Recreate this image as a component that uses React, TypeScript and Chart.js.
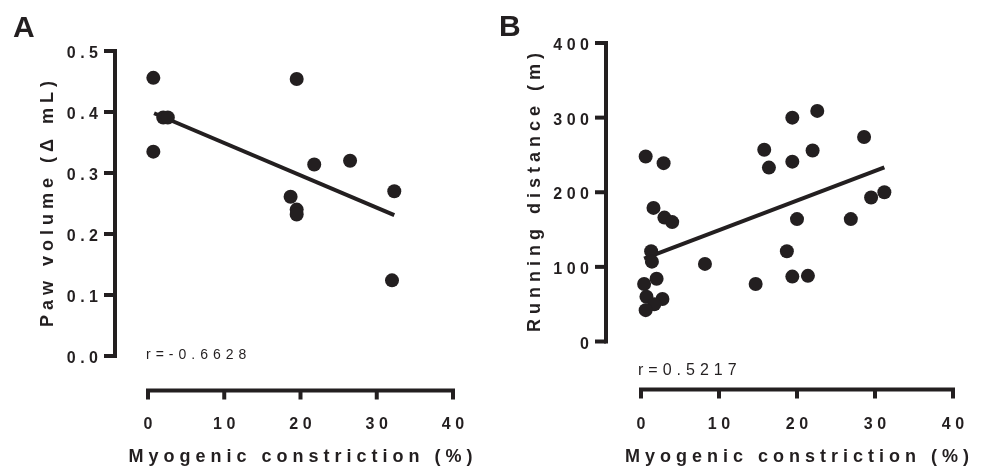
import React, { useEffect, useRef } from "react";
import { Chart, registerables } from "chart.js";

Chart.register(...registerables);

const INK = "#231f20";
const FONT = "'Liberation Sans', Arial, Helvetica, sans-serif";

// ---------- Panel A data ----------
const aX = [0.7, 0.7, 2.0, 2.6, 19.5, 21.8, 26.5, 18.7, 19.5, 19.5, 32.3, 32.0];
const aY = [0.456, 0.335, 0.391, 0.391, 0.454, 0.314, 0.32, 0.261, 0.24, 0.232, 0.27, 0.124];
const aFitX = [0.8, 32.3];
const aFitY = [0.398, 0.231];
const aXTicks = [0, 10, 20, 30, 40];
const aXTickLabels = ["0", "10", "20", "30", "40"];
const aYTicks = [0, 0.1, 0.2, 0.3, 0.4, 0.5];
const aYTickLabels = ["0.0", "0.1", "0.2", "0.3", "0.4", "0.5"];
const aYTitle = "Paw volume (\u0394 mL)";
const aXTitle = "Myogenic constriction (%)";
const aR = "r=-0.6628";

// ---------- Panel B data ----------
const bX = [0.6, 2.9, 1.6, 3.0, 4.0, 15.8, 16.4, 19.4, 19.4, 22.6, 22.0, 28.6, 29.5, 31.2, 20.0, 26.9, 1.3, 1.4, 2.0, 0.4, 0.7, 2.75, 1.7, 0.6, 8.2, 14.7, 18.7, 19.4, 21.4];
const bY = [248, 239, 179, 166, 160, 257, 233, 300, 241, 309, 256, 274, 193, 200, 164, 164, 121, 107, 84, 77, 60, 57, 50, 42, 104, 77, 121, 87, 88];
const bFitX = [0.4, 31.2];
const bFitY = [111, 233.4];
const bXTicks = [0, 10, 20, 30, 40];
const bXTickLabels = ["0", "10", "20", "30", "40"];
const bYTicks = [0, 100, 200, 300, 400];
const bYTickLabels = ["0", "100", "200", "300", "400"];
const bYTitle = "Running distance (m)";
const bXTitle = "Myogenic constriction (%)";
const bR = "r=0.5217";

type PanelCfg = {
  xs: number[];
  ys: number[];
  fitX: number[];
  fitY: number[];
  xTicks: number[];
  xTickLabels: string[];
  yTicks: number[];
  yTickLabels: string[];
  yTitle: string;
  xTitle: string;
  rText: string;
  letter: string;
  width: number;
  padding: { left: number; right: number; top: number; bottom: number };
  yAxisGap: number;
  xAxisGap: number;
  yTitleX: number;
  yTitleCY: number;
  rX: number;
  rY: number;
  rFont: number;
  letterX: number;
  letterY: number;
};

function drawSpaced(
  ctx: CanvasRenderingContext2D,
  text: string,
  x: number,
  y: number,
  align: "left" | "center" | "right",
  spacing: number
) {
  const chars = Array.from(text);
  ctx.textAlign = "left";
  const ws = chars.map((c) => ctx.measureText(c).width);
  const total = ws.reduce((a, b) => a + b, 0) + spacing * (chars.length - 1);
  let cx = align === "left" ? x : align === "center" ? x - total / 2 : x - total;
  chars.forEach((c, i) => {
    ctx.fillText(c, cx, y);
    cx += ws[i] + spacing;
  });
}

function makePlugin(cfg: PanelCfg) {
  return {
    id: "prismAxes",
    afterDatasetsDraw(chart: any) {
      const ctx: CanvasRenderingContext2D = chart.ctx;
      const xs = chart.scales.x;
      const ys = chart.scales.y;
      const area = chart.chartArea;
      const axX = area.left - cfg.yAxisGap;
      const axY = area.bottom + cfg.xAxisGap;
      ctx.save();
      ctx.strokeStyle = INK;
      ctx.fillStyle = INK;
      ctx.lineWidth = 4;
      ctx.lineCap = "butt";

      // Y axis
      const yTop = ys.getPixelForValue(cfg.yTicks[cfg.yTicks.length - 1]);
      const yBot = ys.getPixelForValue(cfg.yTicks[0]);
      ctx.beginPath();
      ctx.moveTo(axX, yTop - 2);
      ctx.lineTo(axX, yBot + 2);
      ctx.stroke();
      cfg.yTicks.forEach((v) => {
        const py = ys.getPixelForValue(v);
        ctx.beginPath();
        ctx.moveTo(axX - 11, py);
        ctx.lineTo(axX, py);
        ctx.stroke();
      });

      // X axis
      const xL = xs.getPixelForValue(cfg.xTicks[0]);
      const xR = xs.getPixelForValue(cfg.xTicks[cfg.xTicks.length - 1]);
      ctx.beginPath();
      ctx.moveTo(xL - 2, axY);
      ctx.lineTo(xR + 2, axY);
      ctx.stroke();
      cfg.xTicks.forEach((v) => {
        const px = xs.getPixelForValue(v);
        ctx.beginPath();
        ctx.moveTo(px, axY);
        ctx.lineTo(px, axY + 9);
        ctx.stroke();
      });

      // Tick labels
      ctx.font = `bold 16px ${FONT}`;
      ctx.textBaseline = "alphabetic";
      cfg.yTicks.forEach((v, i) => {
        const py = ys.getPixelForValue(v);
        drawSpaced(ctx, cfg.yTickLabels[i], axX - 17, py + 7, "right", 4.5);
      });
      cfg.xTicks.forEach((v, i) => {
        const px = xs.getPixelForValue(v);
        drawSpaced(ctx, cfg.xTickLabels[i], px, 428.5, "center", 4.5);
      });

      // X title
      ctx.font = `bold 18px ${FONT}`;
      const midX = (xL + xR) / 2;
      drawSpaced(ctx, cfg.xTitle, midX, 462, "center", 5);

      // Y title
      ctx.save();
      ctx.translate(cfg.yTitleX, cfg.yTitleCY);
      ctx.rotate(-Math.PI / 2);
      drawSpaced(ctx, cfg.yTitle, 0, 0, "center", 5);
      ctx.restore();

      // r annotation
      ctx.font = `${cfg.rFont}px ${FONT}`;
      drawSpaced(ctx, cfg.rText, cfg.rX, cfg.rY, "left", 5);

      // Panel letter
      ctx.font = `bold 30px ${FONT}`;
      drawSpaced(ctx, cfg.letter, cfg.letterX, cfg.letterY, "left", 0);

      ctx.restore();
    },
  };
}

function Panel({ cfg, yMin, yMax, left }: { cfg: PanelCfg; yMin: number; yMax: number; left: number }) {
  const ref = useRef<HTMLCanvasElement | null>(null);
  useEffect(() => {
    if (!ref.current) return;
    const pts = cfg.xs.map((x, i) => ({ x, y: cfg.ys[i] }));
    const fit = cfg.fitX.map((x, i) => ({ x, y: cfg.fitY[i] }));
    const chart = new Chart(ref.current, {
      type: "scatter",
      data: {
        datasets: [
          {
            data: pts,
            pointRadius: 7,
            pointHoverRadius: 7,
            pointBackgroundColor: INK,
            pointBorderWidth: 0,
            borderColor: INK,
            showLine: false,
            order: 1,
            clip: false as any,
          },
          {
            data: fit,
            showLine: true,
            pointRadius: 0,
            borderColor: INK,
            borderWidth: 4,
            order: 2,
            clip: false as any,
          },
        ],
      },
      options: {
        animation: false,
        responsive: false,
        maintainAspectRatio: false,
        events: [],
        layout: { padding: cfg.padding },
        plugins: { legend: { display: false }, tooltip: { enabled: false }, title: { display: false } },
        scales: {
          x: { type: "linear", min: cfg.xTicks[0], max: cfg.xTicks[cfg.xTicks.length - 1], display: false },
          y: { type: "linear", min: yMin, max: yMax, display: false },
        },
      },
      plugins: [makePlugin(cfg)],
    });
    return () => chart.destroy();
  }, []);
  return (
    <canvas
      ref={ref}
      width={cfg.width}
      height={467}
      style={{ position: "absolute", left, top: 0, width: cfg.width, height: 467 }}
    />
  );
}

const cfgA: PanelCfg = {
  xs: aX,
  ys: aY,
  fitX: aFitX,
  fitY: aFitY,
  xTicks: aXTicks,
  xTickLabels: aXTickLabels,
  yTicks: aYTicks,
  yTickLabels: aYTickLabels,
  yTitle: aYTitle,
  xTitle: aXTitle,
  rText: aR,
  letter: "A",
  width: 490,
  padding: { left: 148, right: 37, top: 51, bottom: 111 },
  yAxisGap: 33,
  xAxisGap: 34.5,
  yTitleX: 53,
  yTitleCY: 204,
  rX: 146,
  rY: 359,
  rFont: 14,
  letterX: 13,
  letterY: 37,
};

const cfgB: PanelCfg = {
  xs: bX,
  ys: bY,
  fitX: bFitX,
  fitY: bFitY,
  xTicks: bXTicks,
  xTickLabels: bXTickLabels,
  yTicks: bYTicks,
  yTickLabels: bYTickLabels,
  yTitle: bYTitle,
  xTitle: bXTitle,
  rText: bR,
  letter: "B",
  width: 495,
  padding: { left: 151, right: 32, top: 43, bottom: 125.5 },
  yAxisGap: 35,
  xAxisGap: 48,
  yTitleX: 50,
  yTitleCY: 192.5,
  rX: 148,
  rY: 375,
  rFont: 16,
  letterX: 9,
  letterY: 36,
};

export default function App() {
  return (
    <div style={{ position: "absolute", left: 0, top: 0, width: 985, height: 467, background: "#fff", overflow: "hidden" }}>
      <Panel cfg={cfgA} yMin={0} yMax={0.5} left={0} />
      <Panel cfg={cfgB} yMin={0} yMax={400} left={490} />
    </div>
  );
}
